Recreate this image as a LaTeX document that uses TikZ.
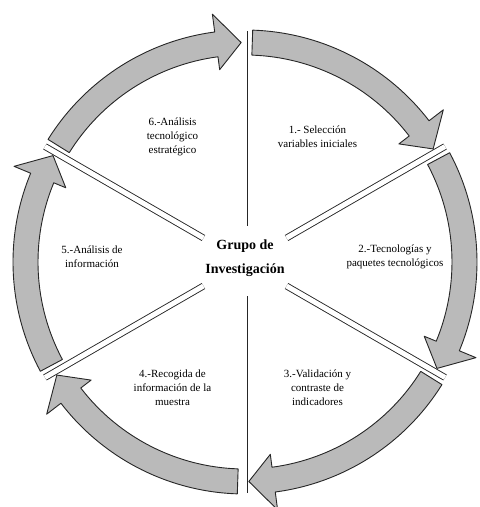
\documentclass[tikz,border=0pt]{standalone}
\usepackage{fontspec}
\setmainfont{Liberation Serif}
\usetikzlibrary{calc}

\begin{document}
\begin{tikzpicture}[x=1pt, y=1pt,
        flecha/.style={draw=black!85, line width=0.9pt, fill=black!27, line join=round},
        radio/.style={draw=black!85, line width=0.9pt, double=white, double distance=5pt},
        etapa/.style={align=center, font=\fontsize{11}{14}\selectfont, inner sep=1pt}]
        \useasboundingbox (-245,-245) rectangle (235,262);

        \node[align=center, font=\fontsize{14}{24}\selectfont\bfseries] (grupo) at (0,4) {Grupo de\\Investigación};

        \foreach \s/\r in {30/48,90/36,150/48,210/48,270/34,330/48} {
            \coordinate (in\s) at (\s:\r);
            \coordinate (out\s) at (\s:231);
            \draw[radio] (in\s) -- (out\s);
        }

        \foreach \s in {90,150,210,270,330,390} {
            \pgfmathsetmacro\ta{\s-1.9}
            \pgfmathsetmacro\tb{\s-59}
            \pgfmathsetmacro\th{\tb+6.5}
            \draw[flecha] (\ta:232) arc[start angle=\ta, end angle=\th, radius=232]
                -- (\th:250) -- (\tb:219.5) -- (\th:194) -- (\th:207)
                arc[start angle=\th, end angle=\ta, radius=207] -- cycle;
        }

        \node[etapa] (etapa1) at (60:145) {1.- Selección\\variables iniciales};
        \node[etapa] (etapa2) at ($(0:150)+(0,5)$) {2.-Tecnologías y\\paquetes tecnológicos};
        \node[etapa] (etapa3) at (-60:145) {3.-Validación y\\contraste de\\indicadores};
        \node[etapa] (etapa4) at (-120:145) {4.-Recogida de\\información de la\\muestra};
        \node[etapa] (etapa5) at ($(180:153)+(0,5)$) {5.-Análisis de\\información};
        \node[etapa] (etapa6) at (120:145) {6.-Análisis\\tecnológico\\estratégico};
    \end{tikzpicture}
\end{document}
